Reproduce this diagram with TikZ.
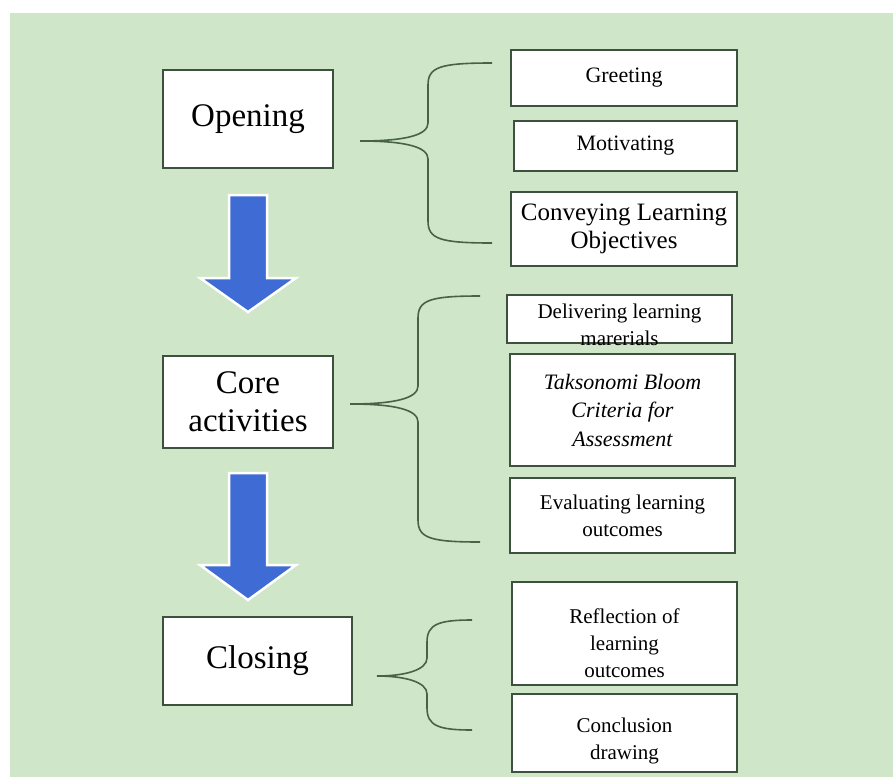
\documentclass[tikz,border=0pt]{standalone}
\usepackage{fontspec}
\setmainfont{Liberation Serif}
\usepackage{tikz}
\usetikzlibrary{positioning}
\usepackage{xcolor}
\definecolor{bggreen}{RGB}{207,230,201}
\definecolor{boxline}{RGB}{62,80,62}
\definecolor{braceline}{RGB}{72,98,72}
\definecolor{arrowblue}{RGB}{62,108,212}

\begin{document}
\begin{tikzpicture}[x=1pt, y=-1pt,
		stage/.style={draw=boxline, fill=white, line width=1.6pt, inner sep=0pt, align=center, font=\fontsize{33}{38}\selectfont},
		item/.style={draw=boxline, fill=white, line width=1.6pt, inner sep=0pt, align=center, font=\fontsize{21}{27}\selectfont},
		itemtext/.style={inner sep=0pt, align=center, font=\fontsize{21}{27}\selectfont},
		brace/.style={draw=braceline, line width=1.6pt},
		bigarrow/.style={fill=arrowblue, draw=white, line width=2.5pt, line join=miter}]

		\useasboundingbox (0,0) rectangle (893,779);
		\fill[bggreen] (10,13) rectangle (893,777);

		% Stages
		\node[stage, minimum width=170, minimum height=98] (opening) at (248,119) {Opening};
		\node[stage, minimum width=170, minimum height=92] (core) at (248,402) {Core\\activities};
		\node[stage, minimum width=189, minimum height=88] (closing) at (257.5,661) {Closing};

		% Block arrows between stages
		\foreach \yt/\yh/\ye in {195/278/312, 473/565/600} {
			\draw[bigarrow] (229,\yt) -- (267,\yt) -- (267,\yh) -- (296,\yh) -- (248,\ye) -- (200,\yh) -- (229,\yh) -- cycle;
		}

		% Opening items
		\node[item, minimum width=226, minimum height=56, font=\fontsize{22}{27}\selectfont] (greet) at (624,78) {Greeting};
		\node[item, minimum width=223, minimum height=50, font=\fontsize{22}{27}\selectfont] (motiv) at (625.5,146) {Motivating};
		\node[item, minimum width=226, minimum height=74, font=\fontsize{25}{28}\selectfont] (convey) at (624,229) {Conveying Learning\\Objectives};

		% Core items
		\node[item, minimum width=225, minimum height=48] (deliver) at (619.5,319) {};
		\node[itemtext] (delivertext) at ([yshift=-6pt]deliver.center) {Delivering learning\\marerials};
		\node[item, minimum width=225, minimum height=112, font=\itshape\fontsize{22}{28.5}\selectfont] (bloom) at (622.5,410) {Taksonomi Bloom\\Criteria for\\Assessment};
		\node[item, minimum width=225, minimum height=75] (evalout) at (622.5,515.5) {Evaluating learning\\outcomes};

		% Closing items
		\node[item, minimum width=225, minimum height=103] (reflect) at (624.5,633.5) {};
		\node[itemtext] (reflecttext) at ([yshift=-10pt]reflect.center) {Reflection of\\learning\\outcomes};
		\node[item, minimum width=225, minimum height=78] (conclude) at (624.5,733) {};
		\node[itemtext] (concludetext) at ([yshift=-8pt]conclude.center) {Conclusion\\drawing};

		% Braces
		\foreach \xt/\xv/\xe/\yt/\ym/\yb in {360/428/492/63/141/243, 350/418/480/296/404/542, 377/427/472/620/676/730} {
			\draw[brace] (\xe,\yt) .. controls (\xv+12,\yt) and (\xv,\yt+4) .. (\xv,\yt+22)
				-- (\xv,\ym-18) .. controls (\xv,\ym-6) and (\xv-22,\ym) .. (\xt,\ym)
				.. controls (\xv-22,\ym) and (\xv,\ym+6) .. (\xv,\ym+18)
				-- (\xv,\yb-22) .. controls (\xv,\yb-4) and (\xv+12,\yb) .. (\xe,\yb);
		}
	\end{tikzpicture}
\end{document}
